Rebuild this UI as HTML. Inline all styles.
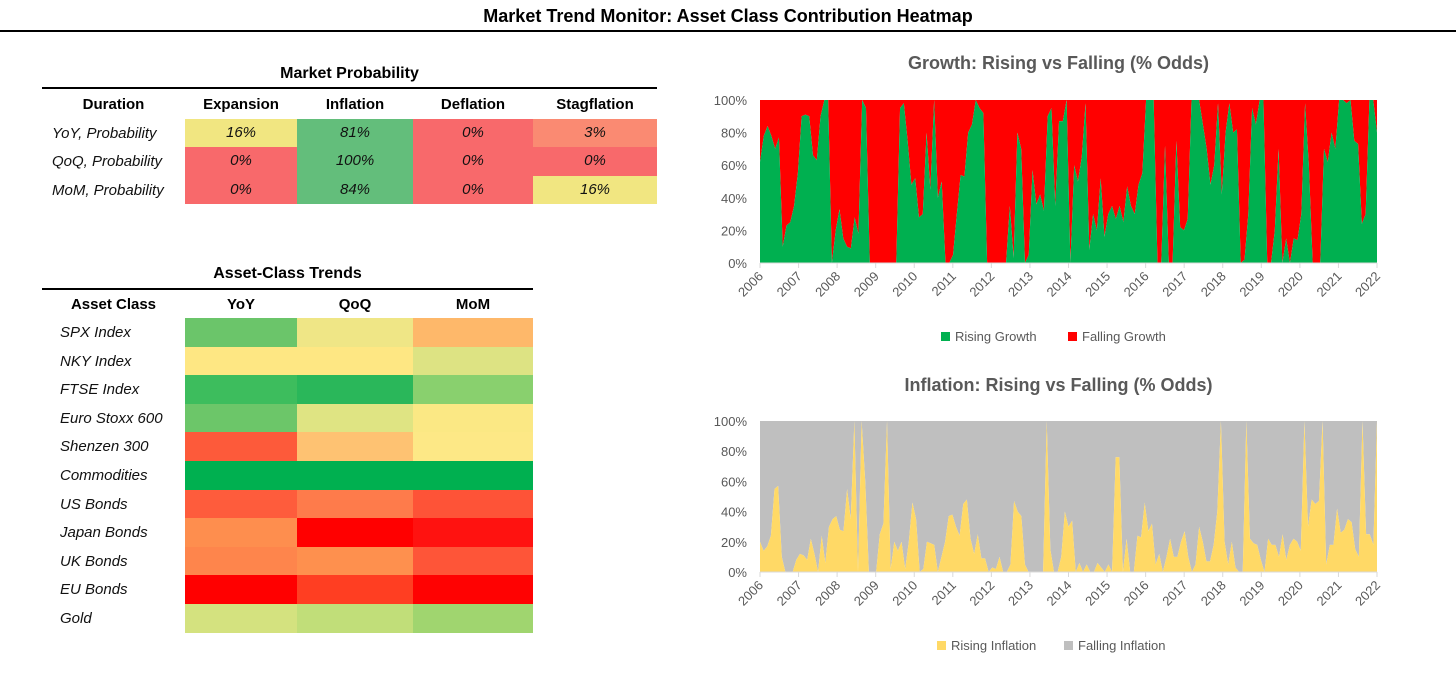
<!DOCTYPE html>
<html><head><meta charset="utf-8">
<style>
body{margin:0;width:1456px;height:689px;background:#fff;font-family:"Liberation Sans",sans-serif;position:relative;overflow:hidden}
.abs{position:absolute}
.t{font-weight:bold;text-align:center}
.cell{position:absolute;text-align:center;font-style:italic;font-size:15px;line-height:28px;color:#111}
.lab{position:absolute;font-style:italic;font-size:15px;color:#111;line-height:28px}
.hd{position:absolute;font-weight:bold;font-size:15px;text-align:center;color:#000}
</style></head><body>
<div class="abs t" style="left:0;width:1456px;top:6px;font-size:18px">Market Trend Monitor: Asset Class Contribution Heatmap</div>
<div class="abs" style="left:0;width:1456px;top:30px;height:2px;background:#000"></div>
<div id="tables"></div>
<svg id="charts" class="abs" style="left:0;top:0" width="1456" height="689"></svg>
<script>
// ----- Market probability table data -----
const probCols=["Expansion","Inflation","Deflation","Stagflation"];
const probRows=["YoY, Probability","QoQ, Probability","MoM, Probability"];
const probVals=[["16%","81%","0%","3%"],["0%","100%","0%","0%"],["0%","84%","0%","16%"]];
const probColors=[["#f1e681","#63be7b","#f8696b","#fa8a72"],["#f8696b","#63be7b","#f8696b","#f8696b"],["#f8696b","#63be7b","#f8696b","#f1e681"]];
// ----- Asset class trends data -----
const assetCols=["YoY","QoQ","MoM"];
const assetRows=["SPX Index","NKY Index","FTSE Index","Euro Stoxx 600","Shenzen 300","Commodities","US Bonds","Japan Bonds","UK Bonds","EU Bonds","Gold"];
const assetColors=[["#6bc56a","#efe686","#feb86a"],["#fee783","#fee783","#dde383"],["#3dbd5d","#2ab75a","#89d06e"],["#6cc669","#dfe483","#fbe884"],["#fd5a3a","#fec272","#fde886"],["#00b050","#00b050","#00b050"],["#fe5c3c","#fe7b4b","#fe5337"],["#fe8e4e","#ff0000","#ff1210"],["#fe854c","#fe904e","#fe5538"],["#ff0000","#ff3e22","#ff0202"],["#d4e27f","#c1de79","#a0d56f"]];

const T=document.getElementById('tables');
function add(cls,style,text,name){const d=document.createElement('div');d.className=cls;d.style.cssText=style;d.textContent=text;


T.appendChild(d);return d;}
// probability table
add('abs t','left:42px;width:615px;top:65px;font-size:16px','Market Probability','probability-table-title');
add('abs','left:42px;width:615px;top:87px;height:2px;background:#000','','probability-title-rule');
const pX=[185,297,413,533,657];
add('hd','left:42px;width:143px;top:96px','Duration','duration-header');
probCols.forEach((c,j)=>add('hd',`left:${pX[j]}px;width:${pX[j+1]-pX[j]}px;top:96px`,c,'prob-header-'+c.toLowerCase()));
probRows.forEach((r,i)=>{const y=119+i*28.3;
add('lab',`left:52px;top:${y+1}px`,r,'prob-row-label');
probVals[i].forEach((v,j)=>add('cell',`left:${pX[j]}px;width:${pX[j+1]-pX[j]}px;top:${y}px;height:28.3px;background:${probColors[i][j]}`,v,'prob-cell'));});
// asset table
add('abs t','left:42px;width:491px;top:265px;font-size:16px','Asset-Class Trends','asset-table-title');
add('abs','left:42px;width:491px;top:288px;height:2px;background:#000','','asset-title-rule');
const aX=[185,297,413,533];
add('hd','left:42px;width:143px;top:296px','Asset Class','asset-class-header');
assetCols.forEach((c,j)=>add('hd',`left:${aX[j]}px;width:${aX[j+1]-aX[j]}px;top:296px`,c,'asset-header-'+c.toLowerCase()));
assetRows.forEach((r,i)=>{const y=318+i*28.6;
add('lab',`left:60px;top:${y+1}px`,r,'asset-row-label');
assetColors[i].forEach((c,j)=>add('abs',`left:${aX[j]}px;width:${aX[j+1]-aX[j]}px;top:${y}px;height:28.7px;background:${c}`,'','asset-cell'));});

// ----- chart data -----
const years=["2006","2007","2008","2009","2010","2011","2012","2013","2014","2015","2016","2017","2018","2019","2020","2021","2022"];
const yTicks=[0,20,40,60,80,100];
const growthRising=[62,78,84,78,70,77,10,23,25,35,55,90,91,90,66,63,90,100,100,0,20,33,15,10,9,28,18,100,95,0,0,0,0,0,0,0,0,95,98,75,48,52,28,30,80,45,100,40,50,0,0,5,30,54,53,80,85,100,95,92,0,0,0,0,0,0,35,3,80,70,0,5,57,36,42,32,90,95,35,87,87,100,0,60,50,65,98,8,30,20,52,16,30,35,27,35,25,47,35,30,48,55,100,100,100,0,0,72,0,0,75,22,20,27,100,100,100,85,70,48,60,98,42,80,98,80,82,0,2,30,95,85,100,100,0,0,20,70,0,15,0,15,14,30,98,60,0,0,0,70,62,80,70,100,100,98,100,75,73,24,30,100,100,80];
const inflationRising=[20,14,17,24,55,57,10,0,0,0,8,12,11,8,22,12,0,24,6,30,35,37,28,27,55,35,100,0,100,60,0,0,0,25,32,100,2,20,14,20,2,20,46,35,0,2,20,19,18,0,10,20,37,38,30,24,45,48,22,12,25,9,9,0,3,2,10,0,0,5,47,40,37,5,0,0,0,0,0,100,15,0,0,10,40,30,34,0,6,0,5,0,0,6,3,0,5,0,76,76,0,22,0,0,24,23,46,27,32,5,12,0,10,22,10,10,20,27,10,0,5,30,20,7,7,18,40,100,20,5,20,3,0,0,100,22,19,18,8,0,22,18,18,10,25,8,18,22,20,14,100,30,48,45,47,100,5,18,18,42,26,28,35,33,15,10,100,25,25,18,100];

const S=document.getElementById('charts');const NS='http://www.w3.org/2000/svg';
function el(tag,attrs,parent){const e=document.createElementNS(NS,tag);for(const k in attrs)e.setAttribute(k,attrs[k]);(parent||S).appendChild(e);return e;}
function chart(cfg){
 const {x0,x1,y0,y1,data,cRise,cFall,title,ty,legY,lx,names,key}=cfg;
 const xs=i=>x0+(x1-x0)*i/(data.length-1);
 const ys=v=>y1-(y1-y0)*v/100;
 const g=el('g',{});
 
 
 const t=el('text',{x:(x0+x1)/2-10,y:ty,'text-anchor':'middle','font-size':18,'font-weight':'bold',fill:'#595959','font-family':'Liberation Sans'},g);t.textContent=title;
 
 
 let line=data.map((v,i)=>xs(i)+','+ys(v)).join(' ');
 const fall=el('polygon',{points:`${x0},${ys(100)} ${x1},${ys(100)} `+data.map((v,i)=>xs(i)+','+ys(v)).reverse().join(' '),fill:cFall},g);
 
 
 const rise=el('polygon',{points:`${x0},${y1} `+line+` ${x1},${y1}`,fill:cRise},g);
 
 
 el('line',{x1:x0,x2:x1,y1:y1,y2:y1,stroke:'#d9d9d9'},g);
 yTicks.forEach(v=>{const tt=el('text',{x:x0-13,y:ys(v)+5,'text-anchor':'end','font-size':13,fill:'#595959','font-family':'Liberation Sans'},g);tt.textContent=v+'%';
  
  });
 years.forEach((yr,i)=>{const x=x0+(x1-x0)*i/(years.length-1);
  el('line',{x1:x,x2:x,y1:y1,y2:y1+5,stroke:'#d9d9d9'},g);
  const tt=el('text',{x:x+4,y:y1+14,'text-anchor':'end','font-size':13,fill:'#595959','font-family':'Liberation Sans',transform:`rotate(-45 ${x+4} ${y1+14})`},g);tt.textContent=yr;
  
  });
 [[cRise,names[0],lx],[cFall,names[1],lx+127]].forEach(([c,n,x],k)=>{
  const r=el('rect',{x:x,y:legY-5,width:9,height:9,fill:c},g);
  
  
  const tt=el('text',{x:x+14,y:legY+4,'font-size':13,fill:'#595959','font-family':'Liberation Sans'},g);tt.textContent=n;
  
  });
}
chart({x0:760,x1:1377,y0:100,y1:263,data:growthRising,cRise:'#00b050',cFall:'#ff0000',title:'Growth: Rising vs Falling (% Odds)',ty:69,legY:337,lx:941,names:['Rising Growth','Falling Growth'],key:'growth'});
chart({x0:760,x1:1377,y0:421,y1:572,data:inflationRising,cRise:'#ffd966',cFall:'#bfbfbf',title:'Inflation: Rising vs Falling  (% Odds)',ty:391,legY:646,lx:937,names:['Rising Inflation','Falling Inflation'],key:'inflation'});
</script>
</body></html>
